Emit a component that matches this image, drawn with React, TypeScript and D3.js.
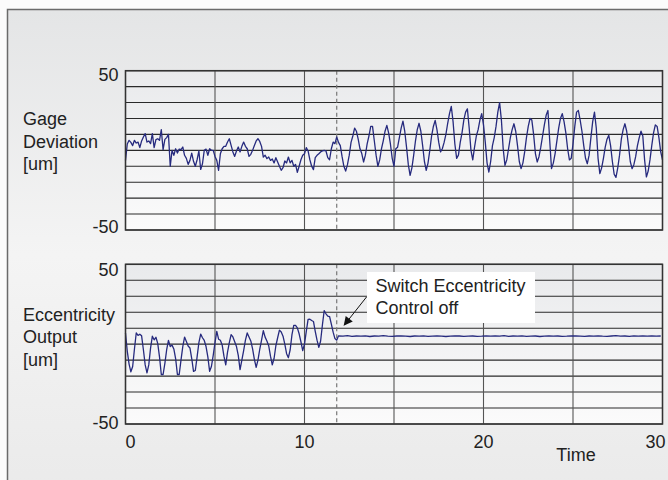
import React from "react";
import * as d3 from "d3";

// ---------- data ----------
const TIME_STEP = 0.1; // gage deviation & controlled eccentricity sampling
const gageDeviation = [
  -6.3, 4, 6.3, 5, 3, 6.3, 4.6, 5.2, 1.7, 5.9,
  8.4, 10.5, 5.2, 5.9, 4.2, 10.5, 1.7, 6.7, 7.3, 6.3,
  13, 0.4, 6.9, 8, 10, -10, 0, -3.1, 1, -1.7,
  0.8, 0.4, 2.1, -3.1, -5, -8.8, -6.3, -1.7, -6.9, -10,
  -5.9, -0.4, -12, -8.4, 0, 0.8, -3.1, 1, 0, 0,
  -3.8, -6.3, -12.5, -2.1, 1, 2.5, 2.5, 5.2, 7.3, 3.1,
  -1, -3.8, -0.4, 2.1, -1, 2.5, 5.2, 2.5, 1, -3.8,
  -2.5, 0, 3.1, 5.9, 7.3, 5.6, 2.5, -4.2, -3.1, -5.2,
  -4.2, -6.3, -5.4, -7.9, -4.6, -7.3, -10, -12.5, -10.9, -6.7,
  -7.9, -4.2, -7.9, -6.3, -10, -8.8, -13.8, -10, -5.9, -3.1,
  -2.1, 1.7, -0.4, -5.9, -10, -12.1, -4.6, -3.1, -2.1, -1,
  -0.4, 0, -0.4, -4.6, -5.9, 1, 5.2, 4.2, 8.4,
  5, 3, -4, -10, -13, -9, -3, 5, 9, 14, 12,
  7, 1, -2, -7.3, -3, 4, 9, 15, 15, 6,
  -3, -10, -6, 1, 6, 12, 15.7, 11, 4, -5,
  -10, 1, 2, 8, 14, 18.4, 12, 2, -9, -15.7,
  -11, -3, 6, 13, 17, 12, 3, -7, -12.5, -8,
  0, 9, 15, 18.8, 13, 5, -1, 1, 5, 10,
  17, 23, 27.6, 18, 4, -5, -3, 5, 11, 19,
  24, 26, 14, 0, -6, 2, 9, 13, 19, 23,
  16, 5, -8, -13.6, -7, 3, 8, 15, 24, 30,
  19, 1, -9.4, -6, 1, 8, 13, 16.7, 12, 3,
  -7, -11.5, -8, -1, 8, 15, 20, 19, 10, -2,
  -7.3, -4, 2, 9, 16, 22, 25, 6, -11.5, -8,
  -2, 6, 14, 20, 23, 18, 11, 1, -6, -5,
  4, 15, 24, 25, 19, 12, 3, -5, -8.4, -3,
  8, 18, 24, 14, -5, -14.6, -11, -5, 2, 7,
  9.4, 3, -7, -15, -17, -11, -3, 7, 13, 16.7,
  12, 3, -7, -11.5, -9, -4, 3, 8, 12, 9,
  -6, -16.7, -13, -6, 3, 11, 16, 15, 8, -1,
  -6,
];
const eccentricityControlled = [
  7, -4.5, -12.5, -17.3, -14, -3, 7, 5.5, 6.2, 5.2,
  -3.5, -13, -18, -13, -2.5, 5, 2.7, 4.3, 0.5, -8,
  -19, -19, -12, -3.5, 2.3, -1.5, -0.6, -3, -9, -19,
  -19, -10, -1.5, 4.4, 1.7, -1.2, -2.4, -9, -17, -16.5,
  -8, 1, 6.3, 4, 2.3, -1.5, -8, -17, -14, -7,
  1, 8, 3.1, 2.4, -0.5, -7.5, -13, -5, 1, 6,
  4.5, 1.5, -1.5, -7, -16, -10, -4, 2.5, 7, 4.5,
  2, -3, -9.5, -14.5, -10, -3.2, 2.5, 8.4, 4.4, 2,
  -1, -7.5, -13, -9, -1, 4, 8.8, 7.6, 5, 0,
  -6, -8.5, -3.5, 6, 11.8, 11.7, 10.2, 6.5, 1.5, -4,
  0, 8, 15.5, 15.6, 14.8, 14.2, 8, 2.5, -2, 2,
  12, 21, 19, 17.6, 17.3, 12.5, 7.5, 3.5, 2.5,
];
const ECC_OFF_START = 11.9;
const ECC_OFF_STEP = 0.25;
const eccentricityOff = [
  5.2, 5.0, 5.3, 4.9, 5.1, 5.0, 5.2, 4.8, 5.1, 5.0,
  5.3, 5.0, 4.9, 5.1, 5.2, 5.0, 4.8, 5.1, 5.0, 5.2,
  4.9, 5.0, 5.1, 5.0, 4.8, 5.0, 5.2, 5.1, 4.9, 5.0,
  5.1, 4.9, 5.0, 5.2, 5.0, 5.1, 5.0, 5.3, 4.9, 5.1,
  5.0, 5.2, 4.9, 5.0, 5.1, 4.8, 5.0, 5.2, 5.0, 5.1,
  4.9, 5.0, 5.2, 5.1, 5.0, 4.9, 5.1, 5.0, 5.2, 5.0,
  4.9, 5.1, 5.3, 5.0, 5.1, 4.9, 5.2, 5.0, 5.1, 5.0,
  5.2, 5.0, 5.1,
];
const SWITCH_TIME = 11.8;
const xTickValues = [0, 10, 20, 30];
const xGridValues = [0, 5, 10, 15, 20, 25, 30];
const yTickValues = [50, -50];
const yGridValues = [-50, -40, -30, -20, -10, 0, 10, 20, 30, 40, 50];
const gageLabel = ["Gage", "Deviation", "[um]"];
const eccLabel = ["Eccentricity", "Output", "[um]"];
const annotationLines = ["Switch Eccentricity", "Control off"];
const xAxisTitle = "Time";

// ---------- layout ----------
const W = 668;
const H = 480;
const X0 = 125.5;
const X1 = 662.5;
const FONT = "'Liberation Sans', Arial, Helvetica, sans-serif";
const LINE_COLOR = "#262a7e";

type Pt = [number, number];

const gagePoints: Pt[] = gageDeviation.map((v, i) => [i * TIME_STEP, v]);
const eccPoints: Pt[] = [
  ...eccentricityControlled.map((v, i) => [i * TIME_STEP, v] as Pt),
  ...eccentricityOff.map(
    (v, i) => [Math.min(30, ECC_OFF_START + i * ECC_OFF_STEP), v] as Pt
  ),
];

const x = d3.scaleLinear().domain([0, 30]).range([X0, X1]);

const panels = [
  {
    id: "gage",
    top: 70.7,
    bottom: 230,
    label: gageLabel,
    labelY: 125,
    points: gagePoints,
    tickDy: [10.5, 2.5],
  },
  {
    id: "ecc",
    top: 264.3,
    bottom: 424,
    label: eccLabel,
    labelY: 320.5,
    points: eccPoints,
    tickDy: [11.5, 4.5],
  },
];

function Panel({ p }: { p: (typeof panels)[number] }) {
  const y = d3.scaleLinear().domain([-50, 50]).range([p.bottom, p.top]);
  const line = d3
    .line<Pt>()
    .x((d) => x(d[0]))
    .y((d) => y(d[1]));
  return (
    <g>
      <rect
        x={X0}
        y={p.top}
        width={X1 - X0}
        height={p.bottom - p.top}
        fill="url(#panelGrad)"
      />
      {yGridValues.map((v) => (
        <line
          key={"h" + v}
          x1={X0}
          x2={X1}
          y1={y(v)}
          y2={y(v)}
          stroke="#2a2a2a"
          strokeWidth={1.1}
        />
      ))}
      {xGridValues.map((v) => (
        <line
          key={"v" + v}
          x1={x(v)}
          x2={x(v)}
          y1={p.top}
          y2={p.bottom}
          stroke="#555"
          strokeWidth={1.1}
        />
      ))}
      <line
        x1={x(SWITCH_TIME)}
        x2={x(SWITCH_TIME)}
        y1={p.top}
        y2={p.bottom}
        stroke="#777"
        strokeWidth={1.2}
        strokeDasharray="4,3"
      />
      <path
        d={line(p.points) || ""}
        fill="none"
        stroke={LINE_COLOR}
        strokeWidth={1.3}
        strokeLinejoin="round"
      />
      <rect
        x={X0}
        y={p.top}
        width={X1 - X0}
        height={p.bottom - p.top}
        fill="none"
        stroke="#333"
        strokeWidth={1.5}
      />
      {yTickValues.map((v, i) => (
        <text
          key={"t" + v}
          x={118.5}
          y={y(v) + p.tickDy[i]}
          textAnchor="end"
          fontSize={18}
          fontFamily={FONT}
          fill="#222"
        >
          {v}
        </text>
      ))}
      <text fontSize={18} fontFamily={FONT} fill="#222">
        {p.label.map((s, i) => (
          <tspan key={s} x={23} y={p.labelY + i * 22.5}>
            {s}
          </tspan>
        ))}
      </text>
    </g>
  );
}

export default function App() {
  const yBottom = d3.scaleLinear().domain([-50, 50]).range([424, 264.3]);
  return (
    <svg
      width={W}
      height={H}
      style={{ position: "absolute", left: 0, top: 0, display: "block" }}
    >
      <defs>
        <linearGradient id="bgGrad" x1="0" y1="0" x2="0" y2="1">
          <stop offset="0%" stopColor="#e4e5e6" />
          <stop offset="50%" stopColor="#f4f4f4" />
          <stop offset="100%" stopColor="#eaeaea" />
        </linearGradient>
        <linearGradient id="panelGrad" x1="0" y1="0" x2="0" y2="1">
          <stop offset="0%" stopColor="#e9eaec" />
          <stop offset="100%" stopColor="#fbfbfb" />
        </linearGradient>
        <marker
          id="arrowHead"
          viewBox="0 0 10 10"
          refX="9"
          refY="5"
          markerWidth="11"
          markerHeight="9"
          markerUnits="userSpaceOnUse"
          orient="auto"
        >
          <path d="M0,0 L10,5 L0,10 z" fill="#111" />
        </marker>
      </defs>
      <rect x={0} y={0} width={W} height={H} fill="#fbfbfb" />
      <rect
        x={7.5}
        y={9.5}
        width={W + 10}
        height={H + 10}
        fill="url(#bgGrad)"
        stroke="#6a6a6a"
        strokeWidth={1.5}
      />
      {panels.map((p) => (
        <Panel key={p.id} p={p} />
      ))}
      {/* annotation */}
      <rect x={367} y={272} width={168} height={51} fill="#ffffff" />
      <text fontSize={18} fontFamily={FONT} fill="#222">
        {annotationLines.map((s, i) => (
          <tspan key={s} x={375.5} y={291.5 + i * 22}>
            {s}
          </tspan>
        ))}
      </text>
      <line
        x1={366.5}
        y1={297}
        x2={x(SWITCH_TIME) + 7.5}
        y2={yBottom(5) - 11}
        stroke="#111"
        strokeWidth={1}
        markerEnd="url(#arrowHead)"
      />
      {/* x ticks */}
      {xTickValues.map((v, i) => (
        <text
          key={"x" + v}
          x={x(v) + (i === 0 ? 0 : i === xTickValues.length - 1 ? 3 : 0)}
          y={448}
          textAnchor={
            i === 0 ? "start" : i === xTickValues.length - 1 ? "end" : "middle"
          }
          fontSize={18}
          fontFamily={FONT}
          fill="#222"
        >
          {v}
        </text>
      ))}
      <text
        x={576}
        y={461}
        textAnchor="middle"
        fontSize={18}
        fontFamily={FONT}
        fill="#222"
      >
        {xAxisTitle}
      </text>
    </svg>
  );
}
